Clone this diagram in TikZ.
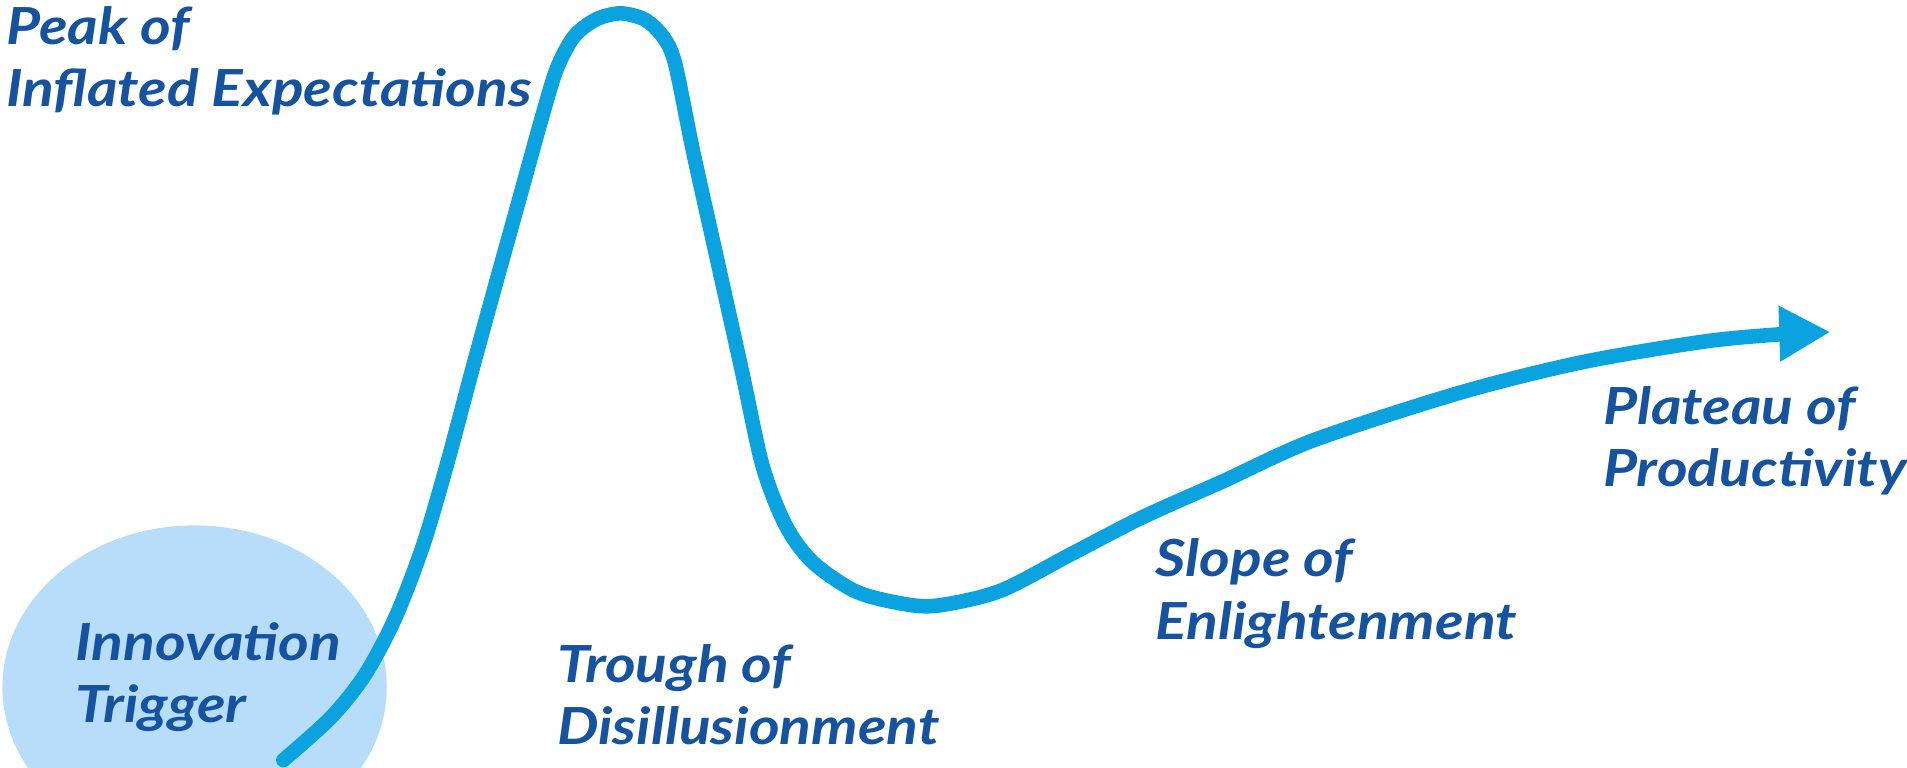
\documentclass[tikz,border=0pt]{standalone}
\usepackage{fontspec}
\setmainfont{Lato}[FakeStretch=1.15]
\usetikzlibrary{arrows.meta}
\definecolor{curveblue}{HTML}{0AA3E0}
\definecolor{labelblue}{HTML}{15529F}
\definecolor{bubble}{HTML}{B8DDFB}
\begin{document}
\begin{tikzpicture}[x=1pt,y=-1pt,
  phase/.style={anchor=north west,inner sep=0pt,align=left,text=labelblue,
    font=\fontsize{42}{51}\selectfont\bfseries\itshape}]
\useasboundingbox (0,0) rectangle (1568,631);
\clip (0,0) rectangle (1568,631);
\fill[bubble] (160,565) ellipse [x radius=158, y radius=133];
\draw[curveblue,line width=12pt,line cap=round,line join=round,
  -{Triangle[length=42pt,width=43pt]}]
  plot[smooth,tension=0.5] coordinates {
  (233,625) (272,590) (300,555) (325,508) (348,448) (368,380)
  (388,305) (408,232) (428,160) (446,95) (458,56) (472,30) (490,16)
  (510,11) (530,16) (545,30) (555,52)
  (570,125) (590,215) (610,305) (627,383) (646,432) (668,462)
  (703,486) (740,496) (770,498) (822,486) (880,456) (940,425)
  (1005,396) (1080,362) (1200,323) (1300,298) (1400,281) (1462,275) (1505,273)};
\node[phase] (peak) at (5,5) {Peak of\\Inflated Expectations};
\node[phase] (trigger) at (62,512) {Innovation\\Trigger};
\node[phase] (trough) at (458,530) {Trough of\\Disillusionment};
\node[phase] (slope) at (950,443) {Slope of\\Enlightenment};
\node[phase] (plateau) at (1318,318) {Plateau of\\Productivity};
\end{tikzpicture}
\end{document}
